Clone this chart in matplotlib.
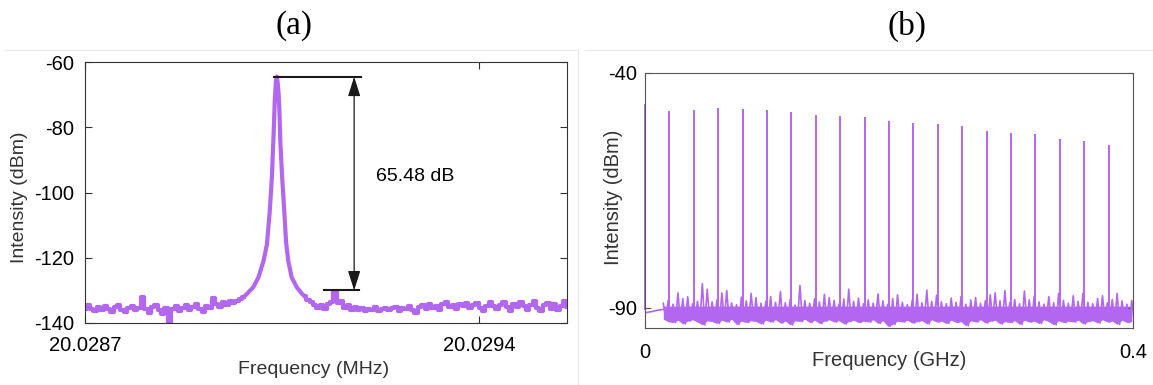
import numpy as np
import matplotlib.pyplot as plt
from matplotlib.lines import Line2D

plt.rcParams['font.family'] = ['Liberation Sans', 'DejaVu Sans']
plt.rcParams['axes.unicode_minus'] = False

TRACE = '#b366f0'

# ---- (a) single-mode beat note, offsets in Hz from 20.0287 MHz ----
F0_MHZ = 20.0287
a_left_hz = np.arange(0, 288, 6)
a_left_db = [-135.8, -134.4, -135.6, -136.3, -135.0, -135.9, -134.7, -135.7, -136.5, -135.2,
             -134.4, -135.9, -136.6, -135.3, -134.8, -136.1, -135.4, -132.0, -135.6, -136.8,
             -135.1, -134.6, -136.0, -137.2, -135.5, -139.6, -135.8, -134.9, -136.2, -135.3,
             -134.5, -136.0, -135.1, -134.3, -135.7, -136.7, -134.9, -135.3, -132.2, -134.2,
             -135.0, -133.6, -134.4, -133.3, -134.0, -133.2, -132.6, -132.0]
a_peak_hz = [282, 288, 299, 308, 317, 323, 328, 332, 335, 337, 339, 340.6,
             342, 344, 345.5, 347, 350, 354, 357, 361, 367, 376, 385, 390]
a_peak_db = [-132.0, -131.0, -129.0, -126.0, -121.0, -116.0, -106.0, -95.0, -82.0, -72.0, -66.0,
             -64.5, -66.0, -70.0, -76.0, -85.0, -95.0, -106.0, -115.0, -121.0, -126.0, -129.0,
             -131.0, -131.8]
a_right_hz = np.arange(390, 859, 6)
a_right_db = [-131.8, -132.8, -133.6, -134.4, -135.3, -134.6, -135.8, -134.2, -133.6, -130.5,
              -134.0, -133.2, -135.4, -134.6, -136.0, -135.2, -135.9, -135.4, -136.2, -135.6,
              -135.9, -135.1, -136.3, -135.7, -135.3, -136.1, -135.5, -135.0, -136.4, -135.3,
              -135.8, -134.7, -135.9, -136.8, -135.0, -134.6, -135.7, -134.2, -135.5, -134.8,
              -135.9, -134.3, -133.7, -135.2, -134.5, -135.6, -134.1, -134.9, -133.8, -135.3,
              -134.6, -133.9, -135.4, -136.2, -134.7, -133.6, -134.9, -135.8, -134.4, -133.5,
              -135.1, -136.3, -134.2, -135.0, -133.7, -134.8, -136.0, -134.5, -133.4, -135.3,
              -136.4, -134.6, -133.9, -135.7, -134.3, -136.1, -134.8, -133.2, -135.0]
PEAK_DB = -64.52
FLOOR_DB = -130.0          # 65.48 dB below the peak

# ---- (b) comb spectrum, GHz ----
b_comb_ghz = [0.00, 0.02, 0.04, 0.06, 0.08, 0.10, 0.12, 0.14, 0.16, 0.18,
              0.20, 0.22, 0.24, 0.26, 0.28, 0.30, 0.32, 0.34, 0.36, 0.38]
b_comb_db = [-46.6, -48.1, -47.9, -47.5, -47.6, -47.9, -48.3, -48.9, -49.1, -49.4,
             -50.2, -50.6, -50.8, -51.2, -52.3, -52.8, -53.0, -54.0, -54.4, -55.3]
b_lead_ghz = [0.0, 0.005, 0.010, 0.0148]
b_lead_db = [-91.0, -90.8, -90.5, -90.3]
b_noise_ghz = np.arange(0.015, 0.400, 0.004)
b_noise_hi = [-89.0, -88.4, -89.2, -86.8, -88.0, -87.6, -89.1, -88.6, -84.8, -86.0,
              -88.7, -88.3, -86.8, -86.3, -88.9, -89.3, -87.7, -88.5, -86.9, -87.8,
              -89.0, -88.6, -87.6, -88.8, -86.5, -88.9, -88.2, -89.4, -85.2, -88.4,
              -89.0, -88.0, -88.7, -87.1, -87.8, -88.4, -89.2, -88.1, -86.0, -88.6,
              -87.9, -89.1, -88.3, -89.0, -87.0, -88.5, -89.2, -88.0, -87.2, -88.8,
              -89.3, -88.4, -87.1, -88.9, -86.2, -88.6, -87.3, -88.7, -89.1, -87.9,
              -88.8, -87.6, -89.2, -88.3, -87.8, -89.0, -88.4, -87.2, -86.8, -88.5,
              -86.3, -88.9, -88.2, -89.1, -86.4, -88.3, -87.5, -88.7, -89.2, -87.6,
              -88.9, -86.9, -88.4, -89.0, -87.4, -88.6, -86.9, -88.8, -89.1, -88.0,
              -87.4, -88.9, -88.2, -86.9, -88.5, -89.2, -88.4]
b_noise_lo = [-92.4, -92.9, -93.1, -92.6, -93.4, -92.8, -92.5, -93.0, -93.6, -92.7,
              -92.9, -93.3, -92.6, -93.0, -92.4, -93.5, -92.8, -93.1, -92.7, -92.9,
              -93.4, -92.6, -93.0, -92.5, -93.2, -92.8, -93.6, -92.7, -92.9, -92.4,
              -93.1, -92.6, -93.3, -92.8, -92.5, -93.0, -92.7, -93.4, -92.9, -92.6,
              -93.1, -92.8, -93.0, -92.5, -93.3, -92.7, -93.9, -93.5, -92.8, -93.0,
              -92.6, -93.2, -92.9, -92.7, -93.4, -92.5, -93.0, -92.8, -93.3, -92.6,
              -93.1, -92.9, -93.8, -92.7, -93.0, -92.5, -93.2, -92.8, -92.6, -93.4,
              -92.9, -93.1, -92.7, -93.5, -92.6, -93.0, -92.8, -93.3, -92.5, -92.9,
              -93.6, -92.7, -93.1, -92.8, -93.0, -92.6, -93.4, -92.9, -92.7, -93.2,
              -92.5, -93.0, -92.8, -93.5, -92.6, -93.1, -92.9]
B_CORE_TOP = -89.6         # top of the dense part of the noise band


def mhz(hz):
    return F0_MHZ + np.asarray(hz, dtype=float) * 1e-6


fig = plt.figure(figsize=(11.53, 3.85), dpi=100)

# light frames around the two panels
for xs, ys in [([5, 578], [50, 50]), ([585, 1153], [50, 50]), ([578, 578], [50, 385])]:
    fig.add_artist(Line2D([x / 1153 for x in xs], [1 - y / 385 for y in ys],
                          color='#e8e8e8', lw=0.8))

fig.text(294 / 1153, 1 - 26 / 385, '(a)', family='Liberation Serif', fontsize=24,
         ha='center', va='center')
fig.text(907 / 1153, 1 - 26 / 385, '(b)', family='Liberation Serif', fontsize=24,
         ha='center', va='center')

# ---------------- panel (a) ----------------
ax1 = fig.add_axes([85 / 1153, 1 - 323 / 385, 482 / 1153, 261 / 385])
ax1.plot(mhz(a_left_hz), a_left_db, color=TRACE, lw=3.0, drawstyle='steps-mid')
ax1.plot(mhz(a_right_hz), a_right_db, color=TRACE, lw=3.0, drawstyle='steps-mid')
ax1.plot(mhz(a_peak_hz), a_peak_db, color=TRACE, lw=3.0)

ax1.plot(mhz([335, 491]), [PEAK_DB, PEAK_DB], color='#1a1a1a', lw=1.5)
ax1.plot(mhz([424, 486]), [FLOOR_DB, FLOOR_DB], color='#1a1a1a', lw=1.5)
ax1.annotate('', xy=(mhz(478), FLOOR_DB), xytext=(mhz(478), PEAK_DB),
             arrowprops=dict(arrowstyle='<|-|>,head_length=1.2,head_width=0.38',
                             mutation_scale=10, color='#1a1a1a', lw=0.9,
                             shrinkA=0, shrinkB=0))
ax1.text(mhz(517), -95, f'{PEAK_DB - FLOOR_DB:.2f} dB', fontsize=14, va='center', ha='left')

ax1.set_xlim(F0_MHZ, mhz(856))
ax1.set_ylim(-140, -60)
ax1.set_xticks([20.0287, 20.0294])
ax1.set_xticklabels(['20.0287', '20.0294'])
ax1.set_yticks([-60, -80, -100, -120, -140])
ax1.tick_params(axis='x', direction='in', top=True, length=5, pad=9.5, labelsize=14.5,
                color='#333333')
ax1.tick_params(axis='y', direction='in', right=True, length=5, pad=8, labelsize=14.5,
                color='#333333')
ax1.set_xlabel('Frequency (MHz)', fontsize=14, color='#333333')
ax1.set_ylabel('Intensity (dBm)', fontsize=14, color='#333333')
ax1.xaxis.set_label_coords(0.475, -0.145)
ax1.yaxis.set_label_coords(-0.118, 0.48)
for sp in ax1.spines.values():
    sp.set_color('#333333')
    sp.set_linewidth(0.8)

# ---------------- panel (b) ----------------
ax2 = fig.add_axes([645 / 1153, 1 - 328 / 385, 488 / 1153, 255 / 385])
zig_f = np.column_stack([b_noise_ghz, b_noise_ghz + 0.002]).ravel()
zig_db = np.column_stack([b_noise_hi, b_noise_lo]).ravel()
ax2.plot(b_lead_ghz, b_lead_db, color=TRACE, lw=1.2)
ax2.fill_between(b_noise_ghz, b_noise_lo, np.minimum(b_noise_hi, B_CORE_TOP),
                 color=TRACE, lw=0)
ax2.plot(zig_f, zig_db, color=TRACE, lw=1.2)
ax2.vlines(b_comb_ghz, -90.5, b_comb_db, color=TRACE, lw=1.4, clip_on=False)

ax2.set_xlim(0, 0.4)
ax2.set_ylim(-94.26, -40)
ax2.set_xticks([0, 0.4])
ax2.set_xticklabels(['0', '0.4'])
ax2.set_yticks([-40, -90])
ax2.tick_params(axis='x', direction='in', top=True, length=4, pad=11, labelsize=14.5,
                color='#555555')
ax2.tick_params(axis='y', direction='in', right=True, length=4, pad=6, labelsize=14.5,
                color='#555555')
ax2.set_xlabel('Frequency (GHz)', fontsize=14.5, color='#333333')
ax2.set_ylabel('Intensity (dBm)', fontsize=14.5, color='#333333')
ax2.xaxis.set_label_coords(0.5, -0.09)
ax2.yaxis.set_label_coords(-0.045, 0.514)
for sp in ax2.spines.values():
    sp.set_color('#555555')
    sp.set_linewidth(0.8)

fig.savefig('out.png', dpi=100)
